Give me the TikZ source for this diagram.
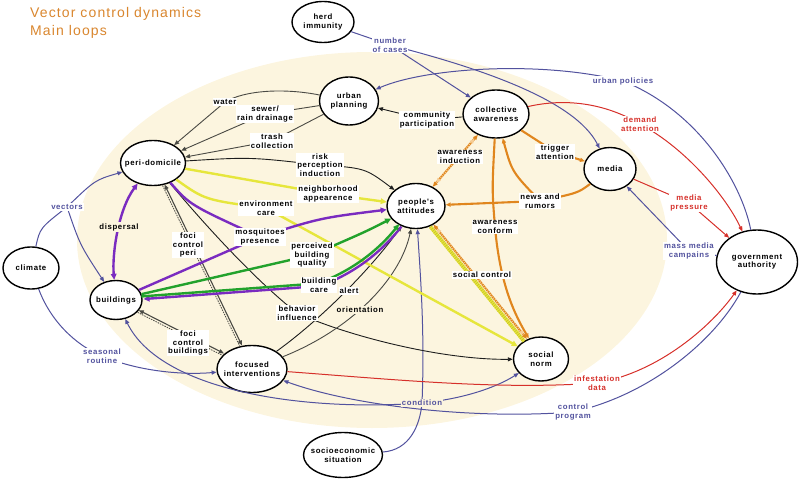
\documentclass[tikz,border=0pt]{standalone}
\usepackage{fontspec}
\setmainfont{Liberation Sans}
\newfontfamily\lblfam[LetterSpace=8]{Liberation Sans}
\newfontfamily\ttlfam[LetterSpace=8]{Liberation Sans}
\usetikzlibrary{shapes.geometric,arrows.meta}
\definecolor{cream}{HTML}{FCF5DF}
\definecolor{cblue}{HTML}{52529E}
\definecolor{cred}{HTML}{D6302A}
\definecolor{corange}{HTML}{E0861E}
\definecolor{corangelt}{HTML}{F6CD95}
\definecolor{cpurple}{HTML}{7A2BC0}
\definecolor{cgreen}{HTML}{22A22C}
\definecolor{cyellow}{HTML}{E6E63C}
\definecolor{cyellowdk}{HTML}{C9C32A}
\definecolor{ctitle}{HTML}{D9862E}
\definecolor{cdark}{HTML}{1E1E1E}
\definecolor{cgray}{HTML}{4A4A44}
\begin{document}
\begin{tikzpicture}[x=1pt,y=-1pt,
  lbl/.style={font=\lblfam\bfseries\fontsize{7.8}{8.5}\selectfont},
  ttl/.style={anchor=base west, inner sep=0pt, text=ctitle, font=\ttlfam\fontsize{14}{18}\selectfont},
  ell/.style={ellipse, draw=black, line width=1.4pt, fill=white, inner sep=0pt},
  ntext/.style={lbl, align=center, inner sep=0pt},
  lab/.style={lbl, fill=white, inner sep=1pt, align=center},
  labc/.style={lbl, fill=cream, inner sep=1pt, align=center},
  ar/.style={-{Triangle[length=5pt,width=4pt]}},
  arb/.style={{Triangle[length=5pt,width=4pt]}-{Triangle[length=5pt,width=4pt]}},
  ark/.style={-{Triangle[length=6pt,width=5.5pt]}},
  arkb/.style={{Triangle[length=6pt,width=5.5pt]}-{Triangle[length=6pt,width=5.5pt]}},
  blk/.style={draw=cdark, line width=0.9pt},
  gry/.style={draw=cgray, line width=0.9pt},
  blu/.style={draw=cblue, line width=1pt},
  rd/.style={draw=cred, line width=1pt},
  pur/.style={draw=cpurple, line width=2.4pt},
  grn/.style={draw=cgreen, line width=2.4pt},
  yel/.style={draw=cyellow, line width=2.4pt},
  org/.style={draw=corange, line width=2.1pt},
  fociS/.style={draw=cgray, line width=1.1pt},
  fociD/.style={draw=cgray, line width=0.8pt, dash pattern=on 1.5pt off 1pt},
]
\useasboundingbox (0,0) rectangle (800,481);
\fill[cream] (372,240) ellipse (295 and 188);

% title
\node[ttl] (title1) at (30,18) {Vector control dynamics};
\node[ttl] (title2) at (30,36) {Main loops};

% nodes
\node[ell, minimum width=62, minimum height=41] (herd) at (323,22) {};
\node[ell, minimum width=59, minimum height=48] (urban) at (349,101) {};
\node[ell, minimum width=66, minimum height=48] (coll) at (496,114) {};
\node[ell, minimum width=52, minimum height=43] (media) at (610,169) {};
\node[ell, minimum width=81, minimum height=64] (gov) at (757,262) {};
\node[ell, minimum width=65, minimum height=45] (peri) at (153,163) {};
\node[ell, minimum width=58, minimum height=45] (people) at (416,206) {};
\node[ell, minimum width=56, minimum height=42] (climate) at (31,268) {};
\node[ell, minimum width=52, minimum height=39] (build) at (116,300) {};
\node[ell, minimum width=70, minimum height=47] (focused) at (252,369) {};
\node[ell, minimum width=79, minimum height=45] (socio) at (343,455) {};
\node[ell, minimum width=55, minimum height=44] (social) at (541,359) {};

% label positions
\coordinate (Lwater) at (225,102);
\coordinate (Lsewer) at (265,114);
\coordinate (Ltrash) at (272,141);
\coordinate (Lcomm) at (427,120);
\coordinate (Lrisk) at (320,165);
\coordinate (Lneigh) at (328,194);
\coordinate (Lenv) at (266,208);
\coordinate (Lmosq) at (260,237);
\coordinate (Lpbq) at (312,255);
\coordinate (Lbcare) at (319,285);
\coordinate (Lalert) at (349,291);
\coordinate (Lbeh) at (297,313);
\coordinate (Lorient) at (360,310);
\coordinate (Ldisp) at (119,227);
\coordinate (Lfocip) at (188,245);
\coordinate (Lfocib) at (188,343);
\coordinate (Lvec) at (67,207);
\coordinate (Lseas) at (102,356);
\coordinate (Lnum) at (390,45);
\coordinate (Lurb) at (623,81);
\coordinate (Lmass) at (689,251);
\coordinate (Lctrl) at (573,412);
\coordinate (Lcond) at (422,403);
\coordinate (Ldem) at (640,124);
\coordinate (Lmp) at (689,203);
\coordinate (Linf) at (597,383);
\coordinate (Lawind) at (460,157);
\coordinate (Lawconf) at (495,227);
\coordinate (Lnews) at (540,201);
\coordinate (Ltrig) at (555,152);
\coordinate (Lsc) at (482,275);

% ---- blue edges
\draw[blu,ar] (climate) .. controls (40,228) .. (Lvec) .. controls (95,180) .. (peri);
\draw[blu,ar] (Lvec) .. controls (80,245) .. (build);
\draw[blu,ar] (climate) .. controls (50,320) and (75,345) .. (Lseas) .. controls (140,372) and (185,375) .. (focused);
\draw[blu,ar] (herd) -- (Lnum) -- (coll);
\draw[blu,ar] (Lnum) .. controls (480,68) and (575,100) .. (media);
\draw[blu,ar] (gov) .. controls (742,185) and (700,112) .. (Lurb) .. controls (540,60) and (425,68) .. (urban);
\draw[blu,ar] (gov) -- (Lmass) -- (media);
\draw[blu,ar] (gov) .. controls (715,340) and (650,395) .. (Lctrl) .. controls (470,420) and (350,405) .. (focused);
\draw[blu,ar] (socio) .. controls (410,450) and (420,425) .. (Lcond) .. controls (425,330) and (420,270) .. (people);
\draw[blu,ar] (Lcond) .. controls (300,412) and (160,390) .. (build);
\draw[blu,ar] (Lcond) .. controls (470,398) and (500,385) .. (social);

% ---- red edges
\draw[rd,ar] (coll) .. controls (565,98) and (605,103) .. (Ldem) .. controls (685,148) and (725,195) .. (gov);
\draw[rd,ar] (media) -- (Lmp) -- (gov);
\draw[rd,ar] (focused) .. controls (400,380) and (500,390) .. (Linf) .. controls (660,372) and (712,325) .. (gov);

% ---- black / gray edges
\draw[gry,ar] (urban) .. controls (285,88) and (245,90) .. (Lwater) -- (peri);
\draw[gry,ar] (urban) -- (Lsewer) -- (peri);
\draw[gry,ar] (urban) -- (Ltrash) -- (peri);
\draw[blk,ar] (coll) -- (Lcomm) -- (urban);
\draw[blk,ar] (peri) .. controls (250,157) .. (Lrisk) .. controls (365,168) .. (people);
\draw[blk,ar] (peri) .. controls (205,225) and (255,280) .. (Lbeh) .. controls (345,335) and (440,360) .. (social);
\draw[blk,ar] (focused) .. controls (320,320) and (370,270) .. (people);
\draw[gry,ar] (focused) .. controls (350,330) and (400,280) .. (people);
% foci control (double)
\draw[fociS,arb,transform canvas={shift={(1,-0.5)}}] (peri) -- (focused);
\draw[fociD,transform canvas={shift={(-1,0.5)}}] (peri) -- (focused);
\draw[fociS,arb,transform canvas={shift={(0.55,-1.1)}}] (build) -- (focused);
\draw[fociD,transform canvas={shift={(-0.55,1.1)}}] (build) -- (focused);

% ---- yellow edges
\draw[yel,ark] (peri) -- (Lneigh) -- (people);
\draw[yel,ark] (peri) .. controls (205,200) .. (Lenv) -- (social);

% ---- purple and green edges
\draw[pur,arkb] (peri) .. controls (118,210) and (112,255) .. (build);
\draw[pur] (build) -- (Lmosq);
\draw[pur,ark] (peri) .. controls (190,205) .. (Lmosq) .. controls (320,218) .. (people);
\draw[grn,ark] (build) -- (Lpbq) .. controls (365,232) .. (people);
\draw[pur,ark,transform canvas={shift={(1,1)}}] (people) .. controls (385,245) and (360,270) .. (Lbcare) -- (build);
\draw[grn,ark,transform canvas={shift={(-1.2,-1.6)}}] (build) -- (Lbcare) .. controls (360,270) and (385,245) .. (people);

% ---- orange edges
\draw[org,ar] (coll) -- (Ltrig) -- (media);
\draw[org,ar] (media) .. controls (578,193) .. (Lnews) -- (people);
\draw[org,ar] (Lnews) .. controls (512,172) .. (coll);
\draw[org,ar] (coll) .. controls (492,190) .. (Lawconf) .. controls (500,285) and (515,315) .. (social);
\draw[org,arb,postaction={draw=corangelt,line width=2pt,dash pattern=on 0.7pt off 1.6pt,shorten <=5pt,shorten >=5pt}] (people) -- (coll);
% social control (double hatched)
\draw[draw=cyellow,line width=3.6pt,transform canvas={shift={(-1.5,1.2)}},
      postaction={draw=cyellowdk,line width=3.6pt,dash pattern=on 0.7pt off 1.5pt}] (people) -- (social);
\draw[org,arb,transform canvas={shift={(1.4,-1.1)}},
      postaction={draw=corangelt,line width=2pt,dash pattern=on 0.7pt off 1.6pt,shorten <=5pt,shorten >=5pt}] (people) -- (social);

% ---- node texts
\node[ntext] (herd-t) at (herd) {herd\\immunity};
\node[ntext] (urban-t) at (urban) {urban\\planning};
\node[ntext] (coll-t) at (coll) {collective\\awareness};
\node[ntext] (media-t) at (media) {media};
\node[ntext] (gov-t) at (gov) {government\\authority};
\node[ntext] (peri-t) at (peri) {peri-domicile};
\node[ntext] (people-t) at (people) {people's\\attitudes};
\node[ntext] (climate-t) at (climate) {climate};
\node[ntext] (build-t) at (build) {buildings};
\node[ntext] (focused-t) at (focused) {focused\\interventions};
\node[ntext] (socio-t) at (socio) {socioeconomic\\situation};
\node[ntext] (social-t) at (social) {social\\norm};

% ---- labels
\node[lab] (water-l) at (Lwater) {water};
\node[lab] (sewer-l) at (Lsewer) {sewer/\\rain drainage};
\node[lab] (trash-l) at (Ltrash) {trash\\collection};
\node[lab] (comm-l) at (Lcomm) {community\\participation};
\node[lab] (risk-l) at (Lrisk) {risk\\perception\\induction};
\node[lab] (neigh-l) at (Lneigh) {neighborhood\\appearence};
\node[lab] (env-l) at (Lenv) {environment\\care};
\node[lab] (mosq-l) at (Lmosq) {mosquitoes\\presence};
\node[lab] (pbq-l) at (Lpbq) {perceived\\building\\quality};
\node[lab] (bcare-l) at (Lbcare) {building\\care};
\node[lab] (alert-l) at (Lalert) {alert};
\node[lab] (beh-l) at (Lbeh) {behavior\\influence};
\node[labc] (orient-l) at (Lorient) {orientation};
\node[labc] (disp-l) at (Ldisp) {dispersal};
\node[lab] (focip-l) at (Lfocip) {foci\\control\\peri};
\node[lab] (focib-l) at (Lfocib) {foci\\control\\buildings};
\node[lab,text=cblue] (vec-l) at (Lvec) {vectors};
\node[lab,text=cblue] (seas-l) at (Lseas) {seasonal\\routine};
\node[lab,text=cblue] (num-l) at (Lnum) {number\\of cases};
\node[lab,text=cblue] (urb-l) at (Lurb) {urban policies};
\node[lab,text=cblue] (mass-l) at (Lmass) {mass media\\campains};
\node[lab,text=cblue] (ctrl-l) at (Lctrl) {control\\program};
\node[labc,text=cblue] (cond-l) at (Lcond) {condition};
\node[lab,text=cred] (dem-l) at (Ldem) {demand\\attention};
\node[lab,text=cred] (mp-l) at (Lmp) {media\\pressure};
\node[lab,text=cred] (inf-l) at (Linf) {infestation\\data};
\node[lab] (awind-l) at (Lawind) {awareness\\induction};
\node[lab] (awconf-l) at (Lawconf) {awareness\\conform};
\node[lab] (news-l) at (Lnews) {news and\\rumors};
\node[lab] (trig-l) at (Ltrig) {trigger\\attention};
\node[lab] (sc-l) at (Lsc) {social control};
\end{tikzpicture}
\end{document}
